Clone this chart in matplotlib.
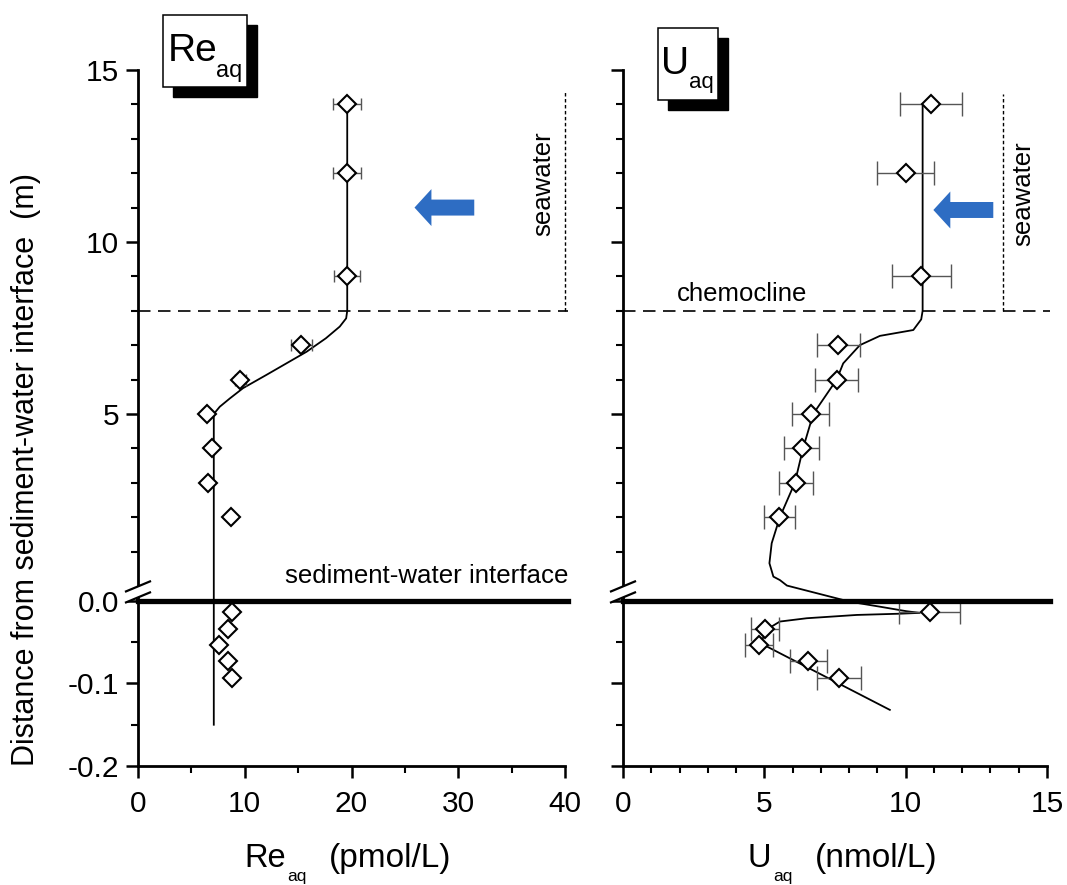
import numpy as np
import matplotlib
matplotlib.use('Agg')
from matplotlib import pyplot as plt
from matplotlib.patches import Rectangle, Polygon
from matplotlib.lines import Line2D

plt.rcParams['font.family'] = ['Liberation Sans', 'DejaVu Sans']

W, H = 1067, 885

# Re profile (pmol/L) vs distance from interface (m)
re_depth = [14, 12, 9, 7, 6, 5, 4, 3, 2, -0.014, -0.034, -0.054, -0.073, -0.093]
re_conc = [19.6, 19.6, 19.6, 15.3, 9.6, 6.5, 6.9, 6.6, 8.7, 8.8, 8.4, 7.6, 8.4, 8.8]
re_err = [1.3, 1.3, 1.2, 1.0, 0.5, 0, 0, 0, 0, 0, 0, 0, 0, 0]
re_fit_depth = [14, 8, 7.78, 7.54, 7.2, 6.81, 6.47, 6.13, 5.75, 5.45, 5.21, 5.0, 0, -0.15]
re_fit_conc = [19.6, 19.6, 19.5, 18.9, 17.6, 15.8, 13.9, 12.0, 9.84, 8.6, 7.66, 7.1, 7.1, 7.1]

# U profile (nmol/L)
u_depth = [14, 12, 9, 7, 6, 5, 4, 3, 2, -0.014, -0.034, -0.054, -0.073, -0.093]
u_conc = [10.9, 10.0, 10.55, 7.62, 7.56, 6.64, 6.32, 6.12, 5.53, 10.85, 5.02, 4.82, 6.56, 7.64]
u_err = [1.1, 1.0, 1.05, 0.75, 0.75, 0.65, 0.62, 0.6, 0.54, 1.07, 0.5, 0.49, 0.65, 0.77]
u_fit_depth = [14, 8, 7.75, 7.44, 7.27, 7.0, 6.47, 6.0, 5, 4, 3, 2, 1.24, 0.66, 0.27, 0.17, 0.01,
               -0.001, -0.007, -0.0125, -0.0145, -0.0155, -0.017, -0.021, -0.025, -0.031, -0.041,
               -0.051, -0.132]
u_fit_conc = [10.6, 10.6, 10.55, 10.27, 9.09, 8.38, 7.79, 7.56, 6.73, 6.37, 6.08, 5.55, 5.26, 5.18,
              5.32, 5.55, 5.8, 8.03, 9.09, 10.03, 10.5, 9.8, 8.27, 6.5, 5.55, 5.26, 5.02, 4.85, 9.44]

chemocline = 8
seawater_re = (40, 14.4)
seawater_u = (13.43, 14.3)
arrow_re = (31.5, 25.9, 11.0)   # tail x, tip x, depth
arrow_u = (13.1, 10.98, 10.93)

y_major = [-0.2, -0.1, 0.0, 5, 10, 15]
y_labels = ['-0.2', '-0.1', '0.0', '5', '10', '15']
y_minor = [-0.15, -0.05, 1, 2, 3, 4, 6, 7, 8, 9, 11, 12, 13, 14]

# broken y axis: water column in m, sediment part stretched
GAP = 0.436
LOW = 24.0


def fwd(y):
    y = np.asarray(y, dtype=float)
    return np.where(y > 0, y + GAP, y * LOW)


def inv(v):
    v = np.asarray(v, dtype=float)
    return np.where(v > GAP, v - GAP, np.where(v < 0, v / LOW, 0.0))


def add_break(ax):
    bb = ax.get_position()
    wpx, hpx = bb.width * W, bb.height * H
    lo, hi = float(fwd(-0.2)), float(fwd(15))
    yc = (0.6 * GAP - lo) / (hi - lo)
    dx, dy, sep = 12 / wpx, 5 / hpx, 5.5 / hpx
    poly = Polygon([(-dx, yc - sep - dy), (dx, yc - sep + dy), (dx, yc + sep + dy), (-dx, yc + sep - dy)],
                   closed=True, facecolor='white', edgecolor='none', transform=ax.transAxes,
                   clip_on=False, zorder=4)
    ax.add_patch(poly)
    for s in (-sep, sep):
        ax.add_line(Line2D([-dx, dx], [yc + s - dy, yc + s + dy], color='black', lw=1.6,
                           transform=ax.transAxes, clip_on=False, zorder=5))


def draw_panel(ax, conc, depth, err, fit_conc, fit_depth, xmax, xstep, xminor, capsize):
    ax.set_yscale('function', functions=(fwd, inv))
    ax.set_ylim(-0.2, 15)
    ax.set_xlim(0, xmax)

    ax.plot(fit_conc, fit_depth, color='black', lw=1.3, zorder=3)
    ax.errorbar(conc, depth, xerr=err, fmt='none', ecolor='#555555', elinewidth=1.0,
                capsize=capsize, capthick=1.0, zorder=4)
    ax.plot(conc, depth, 'D', ms=9, mfc='white', mec='black', mew=1.5, zorder=6)

    ax.axhline(0, xmin=0, xmax=1.007, color='black', lw=3.8, clip_on=False, zorder=5)
    ax.axhline(chemocline, xmin=0, xmax=1.007, color='black', lw=1.2,
               linestyle=(0, (7.5, 4.5)), clip_on=False, zorder=2)

    ax.set_yticks(y_major, y_labels)
    ax.set_yticks(y_minor, minor=True)
    ax.set_xticks(np.arange(0, xmax + 0.1, xstep))
    ax.set_xticks(np.arange(0, xmax + 0.1, xminor), minor=True)
    for s in ['top', 'right']:
        ax.spines[s].set_visible(False)
    for s in ['left', 'bottom']:
        ax.spines[s].set_linewidth(2)
    ax.tick_params(which='major', direction='out', length=8.6, width=1.8, labelsize=21.5)
    ax.tick_params(which='minor', direction='out', length=5, width=1.5)
    ax.tick_params(axis='y', pad=5)
    ax.tick_params(axis='x', pad=9)
    add_break(ax)


def blue_arrow(ax, arrow):
    tail, tip, y = arrow
    ax.annotate('', xy=(tip, y), xytext=(tail, y),
                arrowprops=dict(arrowstyle='simple,head_length=12.2,head_width=26.6,tail_width=11.5',
                                mutation_scale=1, color='#2E6DC3', lw=0, shrinkA=0, shrinkB=0))


fig = plt.figure(figsize=(W / 100, H / 100), dpi=100)
ax_re = fig.add_axes([138 / W, 1 - 766 / H, 427 / W, 696 / H])
ax_u = fig.add_axes([623 / W, 1 - 766 / H, 424 / W, 696 / H])

draw_panel(ax_re, re_conc, re_depth, re_err, re_fit_conc, re_fit_depth, 40, 10, 5, 4.3)
draw_panel(ax_u, u_conc, u_depth, u_err, u_fit_conc, u_fit_depth, 15, 5, 1, 8.6)
ax_u.tick_params(axis='y', labelleft=False)

# seawater markers
for ax, (sx, stop) in [(ax_re, seawater_re), (ax_u, seawater_u)]:
    ax.plot([sx, sx], [chemocline, stop], color='black', lw=1.0, linestyle=(0, (2.5, 1.8)),
            clip_on=False, zorder=2)
ax_re.text(38.0, 11.7, 'seawater', rotation=90, ha='center', va='center', fontsize=18.5)
ax_u.text(14.15, 11.4, 'seawater', rotation=90, ha='center', va='center', fontsize=18.5)
ax_u.text(1.9, 8.27, 'chemocline', ha='left', va='baseline', fontsize=18.5)
ax_re.text(40.3, 0.09, 'sediment-water interface', ha='right', va='baseline', fontsize=18.6)

blue_arrow(ax_re, arrow_re)
blue_arrow(ax_u, arrow_u)


def px(x, y):
    return x / W, 1 - y / H


def title_box(x0, y0, x1, y1, main, sub, main_xy, sub_xy, main_size, sub_size):
    sh = 10
    fig.add_artist(Rectangle(px(x0 + sh, y1 + sh), (x1 - x0) / W, (y1 - y0) / H,
                             facecolor='black', edgecolor='black', transform=fig.transFigure))
    fig.add_artist(Rectangle(px(x0, y1), (x1 - x0) / W, (y1 - y0) / H,
                             facecolor='white', edgecolor='black', lw=1.1, transform=fig.transFigure))
    fig.text(*px(*main_xy), main, fontsize=main_size, va='baseline', ha='left')
    fig.text(*px(*sub_xy), sub, fontsize=sub_size, va='baseline', ha='left')


title_box(163, 15, 247, 87, 'Re', 'aq', (168, 61), (216, 77), 28, 17)
title_box(658, 28, 718, 100, 'U', 'aq', (661, 74), (689, 88), 28, 16)

# axis labels
fig.text(*px(244, 867), 'Re', fontsize=23.5, va='baseline')
fig.text(*px(287, 881), 'aq', fontsize=12.5, va='baseline')
fig.text(*px(329, 867), '(pmol/L)', fontsize=24, va='baseline')
fig.text(*px(747, 867), 'U', fontsize=23.5, va='baseline')
fig.text(*px(773, 881), 'aq', fontsize=12.5, va='baseline')
fig.text(*px(815, 867), '(nmol/L)', fontsize=24, va='baseline')
fig.text(*px(26, 469), 'Distance from sediment-water interface  (m)', rotation=90,
         ha='center', va='center', fontsize=22)

fig.savefig('out.png', dpi=100)
